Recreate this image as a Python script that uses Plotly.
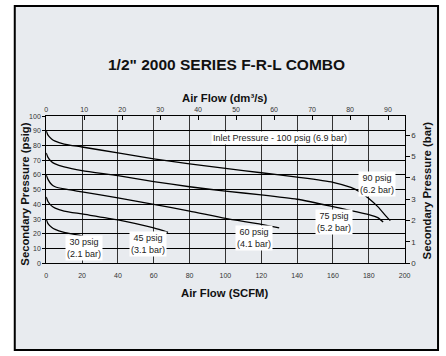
import plotly.graph_objects as go

W, H = 446, 356

# Secondary pressure (psig) vs air flow (SCFM) for each regulator setting
flow_30 = [0, 1, 3, 5, 10, 20, 25]
psi_30 = [30, 27, 24.5, 23, 21, 18.5, 16]

flow_45 = [0, 1, 3, 5, 10, 20, 40, 60, 68]
psi_45 = [45, 42, 39, 37.5, 35.5, 33.5, 29.5, 24, 21]

flow_60 = [0, 1, 3, 5, 10, 20, 40, 60, 80, 100, 120, 130]
psi_60 = [60, 57, 53.5, 52, 50.5, 48.5, 44.5, 40, 35.5, 30.5, 26.5, 24]

flow_75 = [0, 1, 3, 5, 10, 20, 40, 60, 80, 100, 120, 140, 160, 180, 185, 188]
psi_75 = [75, 72, 69, 67.5, 65.5, 63, 59.5, 55.5, 52, 49, 46.5, 43.5, 38.5, 33, 31, 28]

flow_90 = [0, 1, 3, 5, 10, 20, 40, 60, 80, 100, 120, 140, 160, 170, 175, 180, 185, 190, 192]
psi_90 = [90, 87, 84.5, 83, 81, 79, 75, 71, 67.5, 64.5, 61.5, 58.5, 55, 51.5, 48.5, 44, 38.5, 31.5, 29]

curves = [
    (flow_30, psi_30, "30 psig<br>(2.1 bar)", 21, 10.5),
    (flow_45, psi_45, "45 psig<br>(3.1 bar)", 57, 13),
    (flow_60, psi_60, "60 psig<br>(4.1 bar)", 116, 17.5),
    (flow_75, psi_75, "75 psig<br>(5.2 bar)", 160.5, 28),
    (flow_90, psi_90, "90 psig<br>(6.2 bar)", 184.5, 54),
]

scfm_ticks = list(range(0, 201, 20))
dm3s_ticks = list(range(0, 91, 10))
bar_ticks = list(range(0, 7))
SCFM_TO_DM3S = 0.4719
PSI_PER_BAR = 14.5038

FONT = "Liberation Sans, Arial, sans-serif"

fig = go.Figure()
for fx, fy, label, lx, ly in curves:
    fig.add_trace(go.Scatter(
        x=fx, y=fy, mode="lines",
        line=dict(color="black", width=1.3, shape="spline", smoothing=0.6),
        hoverinfo="skip", showlegend=False,
    ))
    fig.add_annotation(
        x=lx, y=ly, xref="x", yref="y", text=label, showarrow=False,
        font=dict(family=FONT, size=9, color="#222"), bgcolor="white",
        borderpad=1, align="center",
    )

# helper trace so the secondary axes are drawn
fig.add_trace(go.Scatter(x=[0], y=[0], xaxis="x2", yaxis="y2", mode="markers",
                         marker=dict(opacity=0), hoverinfo="skip", showlegend=False))

fig.add_annotation(
    x=130.5, y=85, xref="x", yref="y", text="Inlet Pressure - 100 psig (6.9 bar)",
    showarrow=False, font=dict(family=FONT, size=9, color="#222"),
    bgcolor="white", borderpad=1,
)

x0, x1 = 45 / W, 410 / W
y0, y1 = 1 - 266 / H, 1 - 115 / H

tickfont = dict(family=FONT, size=7, color="#333")

fig.update_layout(
    width=W, height=H,
    margin=dict(l=0, r=0, t=0, b=0),
    paper_bgcolor="white",
    plot_bgcolor="white",
    xaxis=dict(
        domain=[x0, x1], range=[0, 200], tickvals=scfm_ticks,
        showgrid=True, gridcolor="#333", gridwidth=1.4,
        showline=True, linecolor="black", linewidth=1,
        ticks="", ticklabelstandoff=5, tickfont=tickfont,
        zeroline=False, mirror=False,
    ),
    xaxis2=dict(
        overlaying="x", side="top", anchor="y",
        range=[0, 200 * SCFM_TO_DM3S], tickvals=dm3s_ticks,
        showgrid=False, showline=True, linecolor="black", linewidth=1,
        ticks="inside", ticklen=4, tickcolor="black", tickwidth=1,
        tickfont=tickfont, zeroline=False,
    ),
    yaxis=dict(
        domain=[y0, y1], range=[0, 100], dtick=10,
        showgrid=True, gridcolor="black", gridwidth=1,
        showline=True, linecolor="black", linewidth=1,
        ticks="outside", ticklen=3, tickcolor="black",
        tickfont=tickfont, zeroline=False,
    ),
    yaxis2=dict(
        overlaying="y", side="right", anchor="x",
        range=[0, 100 / PSI_PER_BAR], tickvals=bar_ticks,
        showgrid=False, showline=True, linecolor="black", linewidth=1,
        ticks="outside", ticklen=4, tickcolor="black",
        tickfont=dict(family=FONT, size=8, color="#333"), zeroline=False,
    ),
    shapes=[
        dict(type="rect", xref="paper", yref="paper",
             x0=13 / W, x1=444 / W, y0=1 - 355 / H, y1=1 - 2 / H,
             fillcolor="#e8ebef", line=dict(color="black", width=2),
             layer="below"),
    ],
)

titles = [
    ('1/2" 2000 SERIES F-R-L COMBO', 229, 62, 15.5, 0),
    ("Air Flow (dm³/s)", 227, 96, 11.3, 0),
    ("Air Flow (SCFM)", 227, 297, 11.3, 0),
    ("Secondary Pressure (psig)", 24, 195, 11.3, -90),
    ("Secondary Pressure (bar)", 433, 191, 11.3, -90),
]
for text, px, py, size, ang in titles:
    fig.add_annotation(
        x=px / W, y=1 - py / H, xref="paper", yref="paper",
        text=f"<b>{text}</b>", showarrow=False, textangle=ang,
        font=dict(family=FONT, size=size, color="#111"),
        xanchor="center", yanchor="middle",
    )

fig.write_html("out.html")
